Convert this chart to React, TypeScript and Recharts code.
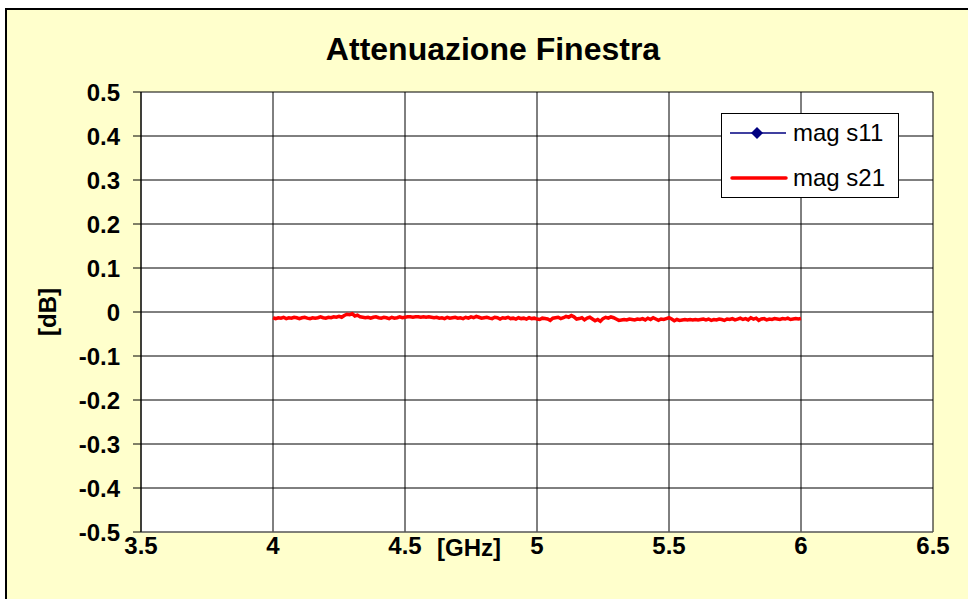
import React from "react";
import { LineChart, Line, XAxis, YAxis, CartesianGrid } from "recharts";

// Frequency sweep: 4.00 GHz to 6.00 GHz, 10 MHz steps
const FREQ_START = 4.0;
const FREQ_STEP = 0.01;

// Measured |S21| in dB, one value per sweep point
const magS21: number[] = [
  -0.013, -0.015, -0.013, -0.014, -0.012, -0.015, -0.013, -0.014, -0.012, -0.013, -0.015,
  -0.013, -0.012, -0.014, -0.015, -0.013, -0.014, -0.013, -0.011, -0.013, -0.014,
  -0.012, -0.013, -0.011, -0.012, -0.010, -0.012, -0.008, -0.005, -0.006, -0.004,
  -0.009, -0.007, -0.011, -0.012, -0.013, -0.012, -0.014, -0.012, -0.011, -0.013,
  -0.014, -0.012, -0.013, -0.015, -0.012, -0.014, -0.013, -0.011, -0.013, -0.012,
  -0.011, -0.011, -0.012, -0.011, -0.011, -0.012, -0.011, -0.012, -0.011, -0.012,
  -0.013, -0.012, -0.014, -0.013, -0.015, -0.012, -0.014, -0.013, -0.012, -0.014,
  -0.013, -0.015, -0.012, -0.014, -0.011, -0.013, -0.010, -0.012, -0.014, -0.013,
  -0.012, -0.014, -0.015, -0.012, -0.013, -0.016, -0.013, -0.014, -0.012, -0.015,
  -0.014, -0.016, -0.013, -0.015, -0.014, -0.016, -0.013, -0.015, -0.014, -0.016,
  -0.017, -0.014, -0.015, -0.016, -0.019, -0.014, -0.013, -0.012, -0.015, -0.013,
  -0.010, -0.012, -0.008, -0.011, -0.016, -0.015, -0.013, -0.018, -0.014, -0.012,
  -0.016, -0.020, -0.017, -0.021, -0.015, -0.012, -0.014, -0.011, -0.013, -0.016,
  -0.019, -0.018, -0.017, -0.018, -0.016, -0.017, -0.018, -0.016, -0.017, -0.015,
  -0.018, -0.014, -0.017, -0.013, -0.016, -0.019, -0.016, -0.017, -0.015, -0.013,
  -0.016, -0.020, -0.017, -0.019, -0.018, -0.017, -0.018, -0.017, -0.018, -0.017,
  -0.018, -0.017, -0.016, -0.018, -0.016, -0.019, -0.017, -0.018, -0.016, -0.017,
  -0.019, -0.016, -0.017, -0.015, -0.018, -0.016, -0.014, -0.017, -0.015, -0.018,
  -0.013, -0.016, -0.014, -0.019, -0.016, -0.015, -0.018, -0.016, -0.017, -0.015,
  -0.016, -0.017, -0.015, -0.016, -0.014, -0.017, -0.016, -0.015, -0.016, -0.015,
];

const xTicks = [3.5, 4, 4.5, 5, 5.5, 6, 6.5];
const yTicks = [-0.5, -0.4, -0.3, -0.2, -0.1, 0, 0.1, 0.2, 0.3, 0.4, 0.5];

const seriesNames = { s11: "mag s11", s21: "mag s21" };
const seriesColors = { s11: "#000080", s21: "#FF0000" };

const data = magS21.map((v, i) => ({
  freq: Math.round((FREQ_START + i * FREQ_STEP) * 100) / 100,
  s21: v,
}));

const FONT = "'Liberation Sans', Arial, sans-serif";
const TICK_FONT = { fill: "#000", fontSize: 24, fontWeight: 700, fontFamily: FONT };

const fmt = (v: number) => {
  const s = (Math.round(v * 10) / 10).toString();
  return s === "-0" ? "0" : s;
};

function LegendBox() {
  const row: React.CSSProperties = {
    position: "absolute",
    left: 8,
    display: "flex",
    alignItems: "center",
    height: 28,
  };
  return (
    <div
      style={{
        position: "absolute",
        left: 721,
        top: 113,
        width: 178,
        height: 85,
        border: "1px solid #000",
        background: "#fff",
        boxSizing: "border-box",
        fontFamily: FONT,
        fontSize: 24,
        color: "#000",
      }}
    >
      <div style={{ ...row, top: 5 }}>
        <svg width={58} height={16} style={{ marginRight: 5 }}>
          <line x1={0} y1={8} x2={56} y2={8} stroke={seriesColors.s11} strokeWidth={1.5} />
          <polygon points="27,2 33,8 27,14 21,8" fill={seriesColors.s11} />
        </svg>
        <span>{seriesNames.s11}</span>
      </div>
      <div style={{ ...row, top: 50 }}>
        <svg width={58} height={16} style={{ marginRight: 5 }}>
          <line x1={2} y1={8} x2={56} y2={8} stroke={seriesColors.s21} strokeWidth={3.5} strokeLinecap="round" />
        </svg>
        <span>{seriesNames.s21}</span>
      </div>
    </div>
  );
}

export default function App() {
  return (
    <div style={{ position: "absolute", left: 0, top: 0, width: 968, height: 599, overflow: "hidden" }}>
      <div
        style={{
          position: "absolute",
          left: 5,
          top: 8,
          width: 980,
          height: 610,
          background: "#FFFFCC",
          borderTop: "2px solid #000",
          borderLeft: "2px solid #000",
        }}
      />
      <div style={{ position: "absolute", left: 0, top: 0 }}>
        <LineChart
          width={968}
          height={599}
          data={data}
          margin={{ top: 92, right: 35, bottom: 17, left: 0 }}
        >
          <CartesianGrid stroke="#000" strokeWidth={1} fill="#fff" />
          <XAxis
            dataKey="freq"
            type="number"
            domain={[3.5, 6.5]}
            ticks={xTicks}
            tickLine={false}
            tickSize={0}
            tickMargin={5}
            axisLine={{ stroke: "#808080" }}
            height={50}
            tickFormatter={(v: number) => String(v)}
            tick={TICK_FONT}
          />
          <YAxis
            type="number"
            domain={[-0.5, 0.5]}
            ticks={yTicks}
            width={141}
            tickSize={8}
            tickMargin={13}
            interval={0}
            tickFormatter={fmt}
            axisLine={{ stroke: "#000" }}
            tickLine={{ stroke: "#000" }}
            tick={TICK_FONT}
          />
          <Line
            dataKey="s11"
            name={seriesNames.s11}
            stroke={seriesColors.s11}
            dot={false}
            isAnimationActive={false}
          />
          <Line
            dataKey="s21"
            name={seriesNames.s21}
            stroke={seriesColors.s21}
            strokeWidth={3.5}
            dot={false}
            isAnimationActive={false}
          />
        </LineChart>
      </div>
      <LegendBox />
      <div
        style={{
          position: "absolute",
          left: 0,
          width: 986,
          top: 31,
          textAlign: "center",
          fontFamily: FONT,
          fontWeight: 700,
          fontSize: 32,
          color: "#000",
        }}
      >
        Attenuazione Finestra
      </div>
      <div
        style={{
          position: "absolute",
          left: 437,
          top: 534,
          fontFamily: FONT,
          fontWeight: 700,
          fontSize: 24,
          color: "#000",
        }}
      >
        [GHz]
      </div>
      <div
        style={{
          position: "absolute",
          left: 48,
          top: 312,
          transform: "translate(-50%, -50%) rotate(-90deg)",
          fontFamily: FONT,
          fontWeight: 700,
          fontSize: 24,
          color: "#000",
          whiteSpace: "nowrap",
        }}
      >
        [dB]
      </div>
    </div>
  );
}
